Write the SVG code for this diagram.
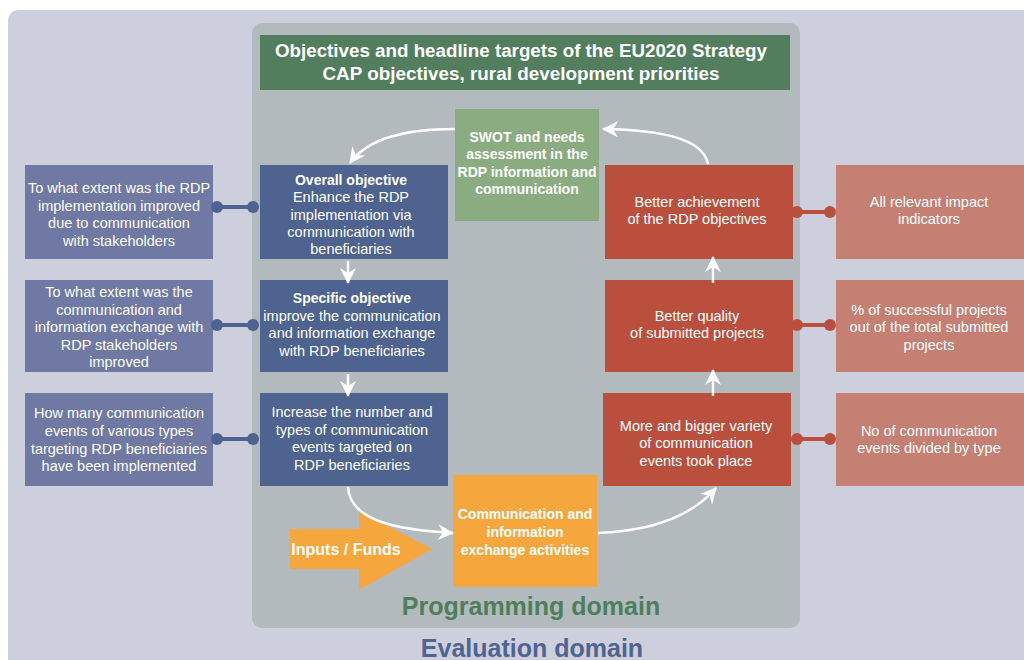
<svg xmlns="http://www.w3.org/2000/svg" width="1024" height="660" viewBox="0 0 1024 660">
<style>
text{font-family:"Liberation Sans",Arial,sans-serif;fill:#ffffff;text-anchor:middle}
.t{font-size:14.5px}
.b{font-size:14px;font-weight:bold}
.h{font-size:18px;font-weight:bold}
.dom{font-size:25px;font-weight:bold}
.lb{fill:#6f79a3}
.db{fill:#4e6390}
.rd{fill:#bb4f3e}
.lr{fill:#c58073}
.arr{fill:none;stroke:#ffffff;stroke-width:2.5}
.bl{stroke:#4e6390;stroke-width:4}
.rl{stroke:#bb4f3e;stroke-width:4}
</style>
<defs>
<marker id="ah" viewBox="0 -9 16 18" refX="15" refY="0" markerWidth="16" markerHeight="18" markerUnits="userSpaceOnUse" orient="auto">
<path d="M0,-8 L16,0 L0,8 L5,0 Z" fill="#ffffff"/>
</marker>
</defs>
<rect x="0" y="0" width="1024" height="660" fill="#ffffff"/>
<rect id="evaluation-domain" x="8" y="10" width="1040" height="680" rx="10" fill="#cdcfdc"/>
<rect id="programming-domain" x="252" y="23" width="548" height="605" rx="10" fill="#b3babd"/>

<g id="header">
<rect x="260" y="35" width="530" height="55" fill="#527e5e"/>
<text class="h" x="521" y="57" textLength="492" lengthAdjust="spacingAndGlyphs">Objectives and headline targets of the EU2020 Strategy</text>
<text class="h" x="521" y="80" textLength="397" lengthAdjust="spacingAndGlyphs">CAP objectives, rural development priorities</text>
</g>

<g id="swot">
<rect x="455" y="109" width="144" height="112" fill="#8aac80"/>
<text class="b" x="527" y="142">SWOT and needs</text>
<text class="b" x="527" y="159">assessment in the</text>
<text class="b" x="527" y="177">RDP information and</text>
<text class="b" x="527" y="194">communication</text>
</g>

<g id="q1">
<rect class="lb" x="25" y="165" width="188" height="94"/>
<text class="t" x="119" y="193">To what extent was the RDP</text>
<text class="t" x="119" y="211">implementation improved</text>
<text class="t" x="119" y="228">due to communication</text>
<text class="t" x="119" y="246">with stakeholders</text>
</g>
<g id="q2">
<rect class="lb" x="25" y="280" width="188" height="92"/>
<text class="t" x="119" y="297">To what extent was the</text>
<text class="t" x="119" y="315">communication and</text>
<text class="t" x="119" y="332">information exchange with</text>
<text class="t" x="119" y="350">RDP stakeholders</text>
<text class="t" x="119" y="367">improved</text>
</g>
<g id="q3">
<rect class="lb" x="25" y="393" width="188" height="93"/>
<text class="t" x="119" y="418">How many communication</text>
<text class="t" x="119" y="436">events of various types</text>
<text class="t" x="119" y="454">targeting RDP beneficiaries</text>
<text class="t" x="119" y="471">have been implemented</text>
</g>

<g id="overall">
<rect class="db" x="260" y="165" width="188" height="94"/>
<text class="b" x="351" y="185">Overall objective</text>
<text class="t" x="351" y="202">Enhance the RDP</text>
<text class="t" x="351" y="220">implementation via</text>
<text class="t" x="351" y="237">communication with</text>
<text class="t" x="351" y="254">beneficiaries</text>
</g>
<g id="specific">
<rect class="db" x="260" y="280" width="188" height="92"/>
<text class="b" x="352" y="303">Specific objective</text>
<text class="t" x="352" y="321">improve the communication</text>
<text class="t" x="352" y="338">and information exchange</text>
<text class="t" x="352" y="356">with RDP beneficiaries</text>
</g>
<g id="increase">
<rect class="db" x="260" y="393" width="188" height="93"/>
<text class="t" x="352" y="417">Increase the number and</text>
<text class="t" x="352" y="435">types of communication</text>
<text class="t" x="352" y="452">events targeted on</text>
<text class="t" x="352" y="470">RDP beneficiaries</text>
</g>

<g id="achievement">
<rect class="rd" x="605" y="165" width="188" height="94"/>
<text class="t" x="697" y="207">Better achievement</text>
<text class="t" x="697" y="224">of the RDP objectives</text>
</g>
<g id="quality">
<rect class="rd" x="605" y="280" width="188" height="92"/>
<text class="t" x="697" y="321">Better quality</text>
<text class="t" x="697" y="338">of submitted projects</text>
</g>
<g id="events">
<rect class="rd" x="603" y="393" width="188" height="93"/>
<text class="t" x="696" y="431">More and bigger variety</text>
<text class="t" x="696" y="448">of communication</text>
<text class="t" x="696" y="466">events took place</text>
</g>

<g id="i1">
<rect class="lr" x="836" y="165" width="188" height="94"/>
<text class="t" x="929" y="207">All relevant impact</text>
<text class="t" x="929" y="224">indicators</text>
</g>
<g id="i2">
<rect class="lr" x="836" y="280" width="188" height="92"/>
<text class="t" x="929" y="315">% of successful projects</text>
<text class="t" x="929" y="332">out of the total submitted</text>
<text class="t" x="929" y="350">projects</text>
</g>
<g id="i3">
<rect class="lr" x="836" y="393" width="188" height="93"/>
<text class="t" x="929" y="436">No of communication</text>
<text class="t" x="929" y="453">events divided by type</text>
</g>

<g id="activities">
<rect x="453" y="475" width="144" height="112" fill="#f5a63d"/>
<text class="b" x="525" y="519">Communication and</text>
<text class="b" x="525" y="537">information</text>
<text class="b" x="525" y="555">exchange activities</text>
</g>

<g id="inputs">
<path d="M290,529 L359,529 L359,511 L432,549 L359,590 L359,569 L290,569 Z" fill="#f5a63d"/>
<text x="346" y="555" style="font-size:16px;font-weight:bold">Inputs / Funds</text>
</g>

<g id="connectors">
<line class="bl" x1="217" y1="207" x2="253" y2="207"/>
<circle cx="217" cy="207" r="6" fill="#4e6390"/>
<circle cx="253" cy="207" r="6" fill="#4e6390"/>
<line class="bl" x1="217" y1="325" x2="253" y2="325"/>
<circle cx="217" cy="325" r="6" fill="#4e6390"/>
<circle cx="253" cy="325" r="6" fill="#4e6390"/>
<line class="bl" x1="217" y1="439" x2="253" y2="439"/>
<circle cx="217" cy="439" r="6" fill="#4e6390"/>
<circle cx="253" cy="439" r="6" fill="#4e6390"/>
<line class="rl" x1="797" y1="212" x2="830" y2="212"/>
<circle cx="797" cy="212" r="6" fill="#bb4f3e"/>
<circle cx="830" cy="212" r="6" fill="#bb4f3e"/>
<line class="rl" x1="797" y1="325" x2="830" y2="325"/>
<circle cx="797" cy="325" r="6" fill="#bb4f3e"/>
<circle cx="830" cy="325" r="6" fill="#bb4f3e"/>
<line class="rl" x1="797" y1="439" x2="830" y2="439"/>
<circle cx="797" cy="439" r="6" fill="#bb4f3e"/>
<circle cx="830" cy="439" r="6" fill="#bb4f3e"/>
<path class="arr" d="M455,129 C405,129 368,138 350,163" marker-end="url(#ah)"/>
<path class="arr" d="M708,164 C703,138 660,130 603,129" marker-end="url(#ah)"/>
<path class="arr" d="M348,261 L348,283" marker-end="url(#ah)"/>
<path class="arr" d="M348,374 L348,396" marker-end="url(#ah)"/>
<path class="arr" d="M348,487 C350,522 400,530 453,533" marker-end="url(#ah)"/>
<path class="arr" d="M598,533 C650,531 690,518 716,488" marker-end="url(#ah)"/>
<path class="arr" d="M713,396 L713,370" marker-end="url(#ah)"/>
<path class="arr" d="M713,283 L713,257" marker-end="url(#ah)"/>
</g>

<text class="dom" x="531" y="615" style="fill:#4e7e5c">Programming domain</text>
<text class="dom" x="532" y="657" style="fill:#4f6490">Evaluation domain</text>
</svg>
